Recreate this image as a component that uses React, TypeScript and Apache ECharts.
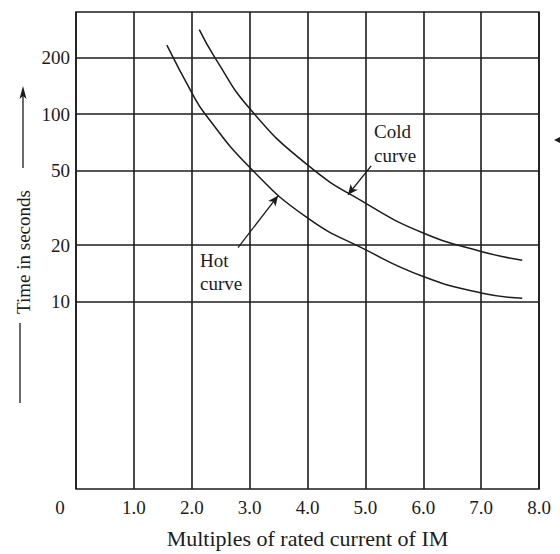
import React, { useEffect, useRef } from 'react';
import * as echarts from 'echarts';

// ---- data ----
const xTicks = [0, 1, 2, 3, 4, 5, 6, 7, 8];
const yGridValues = [10, 20, 50, 100, 200];

const hotX = [1.57, 2.0, 2.23, 3.0, 4.0, 5.0, 6.0, 7.0, 7.71];
const hotY = [233, 130, 100, 52, 27.9, 18.9, 13.6, 11.1, 10.4];

const coldX = [2.13, 2.4, 3.0, 4.0, 5.0, 6.0, 7.0, 7.71];
const coldY = [282, 200, 107, 53.5, 33.5, 23.2, 18.5, 16.6];

// annotation arrows (data coordinates): [fromX, fromY, toX, toY]
const coldArrow = [5.1, 52.9, 4.7, 37.1];
const hotArrow = [2.8, 19.4, 3.49, 36.6];

const xName = 'Multiples of rated current of IM';
const yName = 'Time in seconds';

const INK = '#1c1c1c';
const FONT = '"Liberation Serif", "DejaVu Serif", serif';

export default function App() {
  const ref = useRef<HTMLDivElement>(null);

  useEffect(() => {
    const chart = echarts.init(ref.current!, null, { renderer: 'svg' });

    const option: any = {
      animation: false,
      backgroundColor: '#ffffff',
      grid: {
        left: 76,
        right: 21,
        top: 12,
        bottom: 64,
        show: true,
        borderColor: INK,
        borderWidth: 1.6,
        backgroundColor: 'transparent',
      },
      xAxis: {
        type: 'value',
        min: xTicks[0],
        max: xTicks[xTicks.length - 1],
        interval: 1,
        name: xName,
        nameLocation: 'middle',
        nameGap: 38,
        nameTextStyle: { fontFamily: FONT, fontSize: 22, color: INK },
        axisLine: { show: false },
        axisTick: { show: false },
        axisLabel: {
          margin: 9,
          fontFamily: FONT,
          fontSize: 19,
          color: INK,
          formatter: (v: number) => (v === 0 ? '{z|0}' : v.toFixed(1)),
          rich: {
            z: { fontFamily: FONT, fontSize: 19, color: INK, padding: [0, 32, 0, 0] },
          },
        },
        splitLine: { show: true, lineStyle: { color: INK, width: 1.6 } },
      },
      yAxis: {
        type: 'log',
        logBase: 10,
        min: 1,
        max: 350,
        axisLine: { show: false },
        axisTick: { show: false },
        axisLabel: { show: false },
        splitLine: { show: false },
      },
      series: [
        {
          type: 'line',
          name: 'Hot curve',
          data: hotX.map((x, i) => [x, hotY[i]]),
          smooth: 0.5,
          symbol: 'none',
          lineStyle: { color: INK, width: 1.5 },
          z: 3,
          markLine: {
            silent: true,
            animation: false,
            symbol: ['none', 'none'],
            lineStyle: { color: INK, width: 1.6, type: 'solid' },
            label: {
              show: true,
              position: 'start',
              distance: 6,
              formatter: (p: any) => String(p.value),
              fontFamily: FONT,
              fontSize: 19,
              color: INK,
            },
            data: yGridValues.map((v) => ({ yAxis: v })),
          },
        },
        {
          type: 'line',
          name: 'Cold curve',
          data: coldX.map((x, i) => [x, coldY[i]]),
          smooth: 0.5,
          symbol: 'none',
          lineStyle: { color: INK, width: 1.5 },
          z: 3,
          markLine: {
            silent: true,
            animation: false,
            symbol: ['none', 'arrow'],
            symbolSize: [7, 10],
            lineStyle: { color: INK, width: 1.3, type: 'solid' },
            label: { show: false },
            data: [
              [
                { coord: [coldArrow[0], coldArrow[1]] },
                { coord: [coldArrow[2], coldArrow[3]] },
              ],
              [
                { coord: [hotArrow[0], hotArrow[1]] },
                { coord: [hotArrow[2], hotArrow[3]] },
              ],
            ],
          },
        },
      ],
      graphic: [
        {
          type: 'text',
          left: 374,
          top: 119,
          style: {
            text: 'Cold\ncurve',
            fontFamily: FONT,
            fontSize: 19,
            lineHeight: 24,
            fill: INK,
            align: 'left',
          },
        },
        {
          type: 'text',
          left: 200,
          top: 249,
          style: {
            text: 'Hot\ncurve',
            fontFamily: FONT,
            fontSize: 19,
            lineHeight: 23,
            fill: INK,
            align: 'left',
          },
        },
        {
          type: 'text',
          x: 23,
          y: 252,
          rotation: Math.PI / 2,
          style: {
            text: yName,
            fontFamily: FONT,
            fontSize: 19,
            fill: INK,
            align: 'center',
            verticalAlign: 'middle',
          },
        },
        {
          type: 'line',
          shape: { x1: 23, y1: 168, x2: 23, y2: 95 },
          style: { stroke: INK, lineWidth: 1.3 },
        },
        {
          type: 'polygon',
          shape: { points: [[23, 86], [19.5, 99], [23, 96], [26.5, 99]] },
          style: { fill: INK },
        },
        {
          type: 'line',
          shape: { x1: 20, y1: 323, x2: 20, y2: 403 },
          style: { stroke: INK, lineWidth: 1.3 },
        },
        {
          type: 'polygon',
          shape: { points: [[554, 140], [560, 137], [560, 143]] },
          style: { fill: INK },
        },
      ],
    };

    chart.setOption(option);
    return () => chart.dispose();
  }, []);

  return (
    <div
      ref={ref}
      style={{ position: 'fixed', left: 0, top: 0, width: 560, height: 554, background: '#fff' }}
    />
  );
}
